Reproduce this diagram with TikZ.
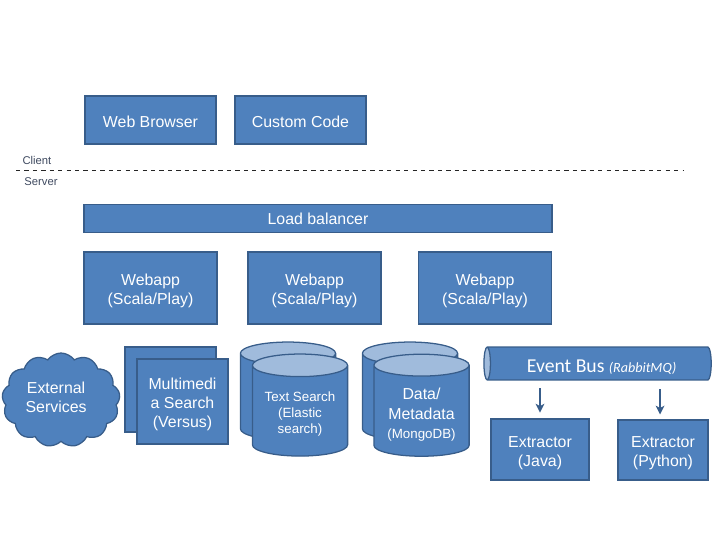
\documentclass[tikz,border=0pt]{standalone}
\usepackage{fontspec}
\setmainfont{Liberation Sans}
\newfontfamily\busfont{Carlito}
\usetikzlibrary{arrows.meta, positioning, shapes.geometric, shapes.symbols}
\definecolor{boxfill}{HTML}{4F81BD}
\definecolor{boxline}{HTML}{385D8A}
\definecolor{captop}{HTML}{A0BBDC}
\definecolor{sidetext}{HTML}{3F4A60}
\newcommand{\lowby}[1]{\rule{0pt}{#1}}
\newcommand{\canspace}{\phantom{Text Search}\\\phantom{(Elastic)}\\\phantom{search)}}

\begin{document}
\begin{tikzpicture}[
  x=0.025cm, y=-0.025cm,
  blk/.style={draw=boxline, line width=0.9pt, fill=boxfill, text=white, align=center,
              inner sep=0pt, font=\fontsize{11.3}{13.6}\selectfont},
  can/.style={blk, fill=none, shape=cylinder, shape border rotate=90, aspect=0.32, cylinder uses custom fill,
              cylinder body fill=boxfill, cylinder end fill=captop, minimum width=2.38cm,
              minimum height=2.55cm},
  arr/.style={-{Stealth[length=2.2mm,width=2.2mm,inset=0.6mm]}, line width=1.1pt, boxline},
  side/.style={font=\fontsize{8}{10}\selectfont, text=sidetext, inner sep=0pt}
]
\useasboundingbox (0,0) rectangle (720,540);
% ----- client side -----
\node[blk, minimum width=3.28cm, minimum height=1.2cm] (browser) at (150.5,120) {\lowby{11pt}Web Browser};
\node[blk, minimum width=3.28cm, minimum height=1.2cm] (custom) at (300.5,120) {\lowby{11pt}Custom Code};
\node[side] (client) at (37,160) {Client};
\node[side] (server) at (41,182) {Server};
\coordinate (cutl) at (16,170);
\coordinate (cutr) at (684,170);
\draw[dashed, line width=0.7pt, black!85] (cutl) -- (cutr);
% ----- web tier -----
\node[blk, minimum width=11.7cm, minimum height=0.7cm] (lb) at (318,218.5) {Load balancer};
\node[blk, minimum width=3.33cm, minimum height=1.8cm] (web1) at (150.5,288) {\lowby{12.5pt}Webapp\\(Scala/Play)};
\node[blk, minimum width=3.33cm, minimum height=1.8cm] (web2) at (314.5,288) {\lowby{12.5pt}Webapp\\(Scala/Play)};
\node[blk, minimum width=3.33cm, minimum height=1.8cm] (web3) at (485,288) {\lowby{12.5pt}Webapp\\(Scala/Play)};
% ----- services -----
\node[blk, shape=cloud, cloud puffs=13, cloud puff arc=110, aspect=1.25,
      minimum width=2.95cm, minimum height=2.35cm] (ext) at (61,400)
     {External\hspace*{7pt}\\Services\hspace*{7pt}\rule[-3.8pt]{0pt}{3.8pt}};
\node[blk, minimum width=2.28cm, minimum height=2.12cm] (mmback) at (170.5,389.5) {};
\node[blk, minimum width=2.28cm, minimum height=2.12cm] (mm) at (182.5,401.5) {\lowby{12.5pt}Multimedi\\a Search\\(Versus)};
\node[can, minimum height=2.45cm, font=\fontsize{9.5}{11.6}\selectfont] (txtback) at (288,397) {\canspace};
\node[can, font=\fontsize{9.5}{11.6}\selectfont] (txt) at (300,411) {\lowby{11pt}Text Search\\(Elastic\\search)};
\node[can, minimum height=2.45cm, font=\fontsize{9.5}{11.6}\selectfont] (dbback) at (410,397) {\canspace};
\node[can] (db) at (421.5,411) {\lowby{13.4pt}Data/\\Metadata\\{\fontsize{9.5}{11}\selectfont(MongoDB)}};
% ----- events -----
\node[blk, fill=none, shape=cylinder, shape border rotate=180, aspect=0.3, cylinder uses custom fill,
      cylinder body fill=boxfill, cylinder end fill=captop, minimum width=0.82cm,
      minimum height=5.68cm, font=\busfont\fontsize{14}{16}\selectfont] (bus) at (599.5,363.5)
     {\lowby{14pt}\hspace*{3pt}Event Bus {\fontsize{10}{12}\selectfont\itshape (RabbitMQ)}};
\node[blk, minimum width=2.45cm, minimum height=1.52cm] (java) at (540,449.5) {\lowby{12.5pt}Extractor\\(Java)};
\node[blk, minimum width=2.25cm, minimum height=1.5cm] (python) at (663,450) {\lowby{12.5pt}Extractor\\(Python)};
\draw[arr, shorten <=8pt*0.7, shorten >=6pt*0.7] (bus.south -| java) -- (java);
\draw[arr, shorten <=9pt*0.7, shorten >=5pt*0.7] ([xshift=-2.1pt]bus.south -| python) -- ([xshift=-2.1pt]python.north);
\end{tikzpicture}
\end{document}
